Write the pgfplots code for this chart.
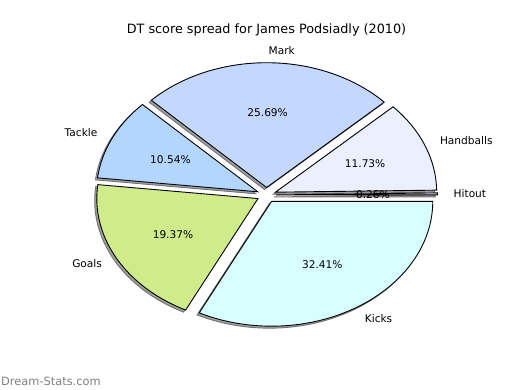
\documentclass[border=0pt]{standalone}
\usepackage{fontspec}
\setmainfont{DejaVu Sans}
\usepackage{pgfplots}
\pgfplotsset{compat=1.18}

\definecolor{cHit}{HTML}{E4E4F4}
\definecolor{cHand}{HTML}{EAF0FF}
\definecolor{cMark}{HTML}{C4D8FF}
\definecolor{cTack}{HTML}{B3D6FF}
\definecolor{cGoal}{HTML}{D0EB8A}
\definecolor{cKick}{HTML}{D8FFFF}

\newcommand\ex{0.06}
\tikzset{lab/.style={font=\fontsize{10.6bp}{12bp}\selectfont, inner sep=0pt}}

% #1 start percent, #2 percent, #3 colour
\newcommand\shadowslice[3]{%
  \pgfmathsetmacro\sa{#1*3.6}%
  \pgfmathsetmacro\sb{(#1+#2)*3.6}%
  \pgfmathsetmacro\sm{(#1+#2/2)*3.6}%
  \pgfmathsetmacro\scx{\ex*cos(\sm)-0.013}%
  \pgfmathsetmacro\scy{\ex*sin(\sm)-0.016}%
  \edef\temp{\noexpand\addplot[fill=#3!30!black!50!white, draw=black!55, line width=0.9bp, line join=miter, domain=\sa:\sb, samples=80, variable=\noexpand\t] ({\scx+cos(\noexpand\t)},{\scy+sin(\noexpand\t)}) -- (axis cs:\scx,\scy) -- cycle;}%
  \temp
}
\newcommand\slice[3]{%
  \pgfmathsetmacro\sa{#1*3.6}%
  \pgfmathsetmacro\sb{(#1+#2)*3.6}%
  \pgfmathsetmacro\sm{(#1+#2/2)*3.6}%
  \pgfmathsetmacro\scx{\ex*cos(\sm)}%
  \pgfmathsetmacro\scy{\ex*sin(\sm)}%
  \edef\temp{\noexpand\addplot[fill=#3, draw=black, line width=0.9bp, line join=miter, domain=\sa:\sb, samples=80, variable=\noexpand\t] ({\scx+cos(\noexpand\t)},{\scy+sin(\noexpand\t)}) -- (axis cs:\scx,\scy) -- cycle;}%
  \temp
}
% #1 start, #2 percent, #3 label
\newcommand\labelslice[3]{%
  \pgfmathsetmacro\sm{(#1+#2/2)*3.6}%
  \pgfmathsetmacro\lx{(\ex+1.1)*cos(\sm)}%
  \pgfmathsetmacro\ly{(\ex+1.1)*sin(\sm)}%
  \pgfmathsetmacro\px{(\ex+0.6)*cos(\sm)}%
  \pgfmathsetmacro\py{(\ex+0.6)*sin(\sm)}%
  \ifdim\lx pt>0pt \def\anch{west}\else\def\anch{east}\fi
  \edef\temp{\noexpand\node[lab, anchor=\anch] at (axis cs:\lx,\ly) {#3};
    \noexpand\node[lab] at (axis cs:\px,\py) {#2\noexpand\%};}%
  \temp
}

\begin{document}
\begin{tikzpicture}
\path[use as bounding box] (-65bp,-39bp) rectangle (455bp,351bp);
\begin{axis}[at={(0,0)}, anchor=south west, scale only axis,
  width=403bp, height=312bp,
  xmin=-1.25, xmax=1.25, ymin=-1.25, ymax=1.25,
  axis lines=none, clip=false]
% shadows (start percent, percent, colour)
\shadowslice{0}{0.26}{cHit}
\shadowslice{0.26}{11.73}{cHand}
\shadowslice{11.99}{25.69}{cMark}
\shadowslice{37.68}{10.54}{cTack}
\shadowslice{48.22}{19.37}{cGoal}
\shadowslice{67.59}{32.41}{cKick}
% wedges
\slice{0}{0.26}{cHit}
\slice{0.26}{11.73}{cHand}
\slice{11.99}{25.69}{cMark}
\slice{37.68}{10.54}{cTack}
\slice{48.22}{19.37}{cGoal}
\slice{67.59}{32.41}{cKick}
% labels
\labelslice{0}{0.26}{Hitout}
\labelslice{0.26}{11.73}{Handballs}
\labelslice{11.99}{25.69}{Mark}
\labelslice{37.68}{10.54}{Tackle}
\labelslice{48.22}{19.37}{Goals}
\labelslice{67.59}{32.41}{Kicks}
\node[font=\fontsize{12.8bp}{15bp}\selectfont, inner sep=0pt] at (rel axis cs:0.5,1) [yshift=9bp] {DT score spread for James Podsiadly (2010)};
\end{axis}
\node[font=\fontsize{11.4bp}{13bp}\selectfont, text=black!50, inner sep=0pt, anchor=west] at (-64bp,-30bp) {Dream-Stats.com};
\end{tikzpicture}
\end{document}
